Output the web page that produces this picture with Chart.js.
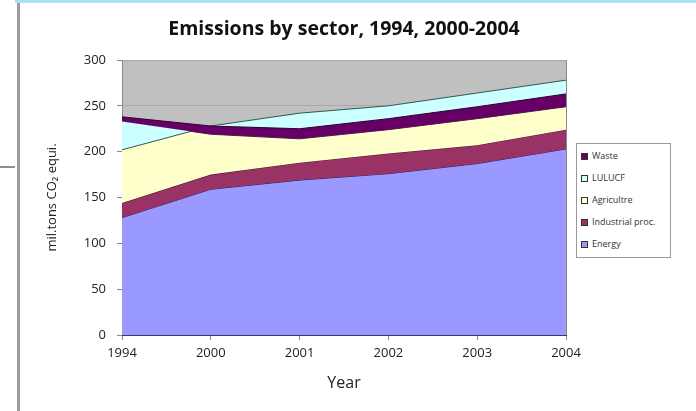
<!DOCTYPE html>
<html>
<head>
<meta charset="utf-8">
<title>Emissions by sector</title>
<script src="https://cdn.jsdelivr.net/npm/chart.js@4.4.1/dist/chart.umd.min.js"></script>
<style>
body { margin: 0; background: #fff; font-family: 'Open Sans', sans-serif; }
#wrap { position: relative; width: 696px; height: 411px; overflow: hidden; background: #fff; }
#chart { position: absolute; left: 0; top: 0; }
#topbar { position: absolute; left: 15px; top: 0; width: 681px; height: 3px; background: #aedff6; }
#sideline { position: absolute; left: 17px; top: 3px; width: 3px; height: 408px; background: #9c9c9c; }
#tick { position: absolute; left: 0; top: 166px; width: 15px; height: 2px; background: #8e8e8e; }
#title { position: absolute; left: 144px; top: 16px; width: 400px; text-align: center; font-weight: bold; font-size: 19.5px; line-height: 24px; color: #111; white-space: nowrap; }
#legend { position: absolute; left: 576px; top: 143px; width: 93px; height: 113px; border: 1px solid #9a9a9a; background: #fff; }
#legend .row { position: absolute; left: 4px; height: 12px; line-height: 12px; font-size: 9px; color: #333; white-space: nowrap; }
#legend .box { display: inline-block; width: 5px; height: 5px; border: 1px solid #333; margin-right: 4px; vertical-align: -1px; }
</style>
</head>
<body>
<div id="wrap">
  <canvas id="chart" width="696" height="411"></canvas>
  <div id="topbar"></div>
  <div id="sideline"></div>
  <div id="tick"></div>
  <div id="title">Emissions by sector, 1994, 2000-2004</div>
  <div id="legend"></div>
</div>
<script>
var years = ['1994', '2000', '2001', '2002', '2003', '2004'];

// valores por sector (mil. toneladas CO2 eq.)
var energy = [128, 159, 169, 176, 187, 203];
var industrial = [16, 16, 19, 22, 20, 21];
var agriculture = [89, 44, 26, 26, 29, 25];
var waste = [5, 9, 11, 12, 13, 14];
var lulucf = [-36, 0, 17, 14, 15, 15];

var sectorNames = ['Waste', 'LULUCF', 'Agricultre', 'Industrial proc.', 'Energy'];
var sectorColors = ['#660066', '#ccffff', '#ffffcc', '#993366', '#9999ff'];
var sectorBorders = ['#2e0030', '#2f5a4c', '#3a3a2a', '#3a1028', '#2c2060'];

var yTicks = [0, 50, 100, 150, 200, 250, 300];

document.addEventListener("DOMContentLoaded", function(){
    drawChart();
    drawLegend();
});

function addUp(base, values){
    var out = [];
    for(var i = 0; i < values.length; i++){
        out.push(base[i] + values[i]);
    }
    return out;
}

function drawChart(){
    var zeros = years.map(function(){ return 0; });
    var cumEnergy = addUp(zeros, energy);
    var cumIndustrial = addUp(cumEnergy, industrial);
    var cumAgriculture = addUp(cumIndustrial, agriculture);
    var cumWaste = addUp(cumAgriculture, waste);
    var cumLulucf = addUp(cumWaste, lulucf);

    // orden del legend: Waste, LULUCF, Agricultre, Industrial, Energy
    var series = [cumWaste, cumLulucf, cumAgriculture, cumIndustrial, cumEnergy];
    var fills = ['+2', '-1', '+1', '+1', 'origin'];

    var datasets = [];
    for(var i = 0; i < series.length; i++){
        datasets.push({
            label: sectorNames[i],
            data: series[i],
            backgroundColor: sectorColors[i],
            borderColor: sectorBorders[i],
            borderWidth: 1,
            fill: fills[i],
            pointRadius: 0,
            tension: 0
        });
    }

    var plotFrame = {
        id: 'plotFrame',
        beforeDraw: function(chart){
            var a = chart.chartArea;
            var c = chart.ctx;
            c.save();
            c.fillStyle = '#c0c0c0';
            c.fillRect(a.left, a.top, a.right - a.left, a.bottom - a.top);
            c.restore();
        },
        afterDatasetsDraw: function(chart){
            var a = chart.chartArea;
            var c = chart.ctx;
            c.save();
            c.strokeStyle = '#8a8a8a';
            c.lineWidth = 1;
            c.beginPath();
            c.moveTo(Math.round(a.right) + 0.5, a.top);
            c.lineTo(Math.round(a.right) + 0.5, a.bottom);
            c.stroke();
            c.strokeStyle = '#3c3c50';
            c.beginPath();
            c.moveTo(a.left, Math.round(a.bottom) + 0.5);
            c.lineTo(a.right + 1, Math.round(a.bottom) + 0.5);
            c.stroke();
            c.restore();
        }
    };

    var ctx = document.getElementById('chart').getContext('2d');
    new Chart(ctx, {
        type: 'line',
        data: { labels: years, datasets: datasets },
        options: {
            responsive: false,
            animation: false,
            layout: { padding: { left: 40, right: 130, top: 60, bottom: 14 } },
            plugins: {
                legend: { display: false },
                tooltip: { enabled: false },
                title: { display: false }
            },
            scales: {
                x: {
                    offset: false,
                    grid: { drawOnChartArea: false, tickLength: 5, tickColor: '#888' },
                    border: { display: false },
                    ticks: { autoSkip: false, maxRotation: 0, padding: 5, color: '#222', font: { family: "'Open Sans', sans-serif", size: 13 } },
                    title: { display: true, text: 'Year', color: '#222', font: { family: "'Open Sans', sans-serif", size: 16 }, padding: { top: 4, bottom: 4 } },
                    afterFit: function(scale){ scale.height = 62; }
                },
                y: {
                    min: 0,
                    max: 300,
                    afterBuildTicks: function(scale){
                        scale.ticks = yTicks.map(function(v){ return { value: v }; });
                    },
                    grid: { color: '#a9a9a9', tickLength: 5, tickColor: '#888' },
                    border: { color: '#8a8a8a' },
                    ticks: { padding: 11, color: '#222', font: { family: "'Open Sans', sans-serif", size: 13 } },
                    title: { display: true, text: 'mil.tons CO₂ equi.', color: '#222', font: { family: "'Open Sans', sans-serif", size: 13 }, padding: { top: 4, bottom: 4 } },
                    afterFit: function(scale){ scale.width = 82; }
                }
            }
        },
        plugins: [plotFrame]
    });
}

function drawLegend(){
    var legend = document.getElementById('legend');
    for(var i = 0; i < sectorNames.length; i++){
        var row = document.createElement('div');
        row.className = 'row';
        row.style.top = (6 + i * 22) + 'px';
        var box = document.createElement('span');
        box.className = 'box';
        box.style.background = sectorColors[i];
        row.appendChild(box);
        row.appendChild(document.createTextNode(sectorNames[i]));
        legend.appendChild(row);
    }
}
</script>
</body>
</html>
